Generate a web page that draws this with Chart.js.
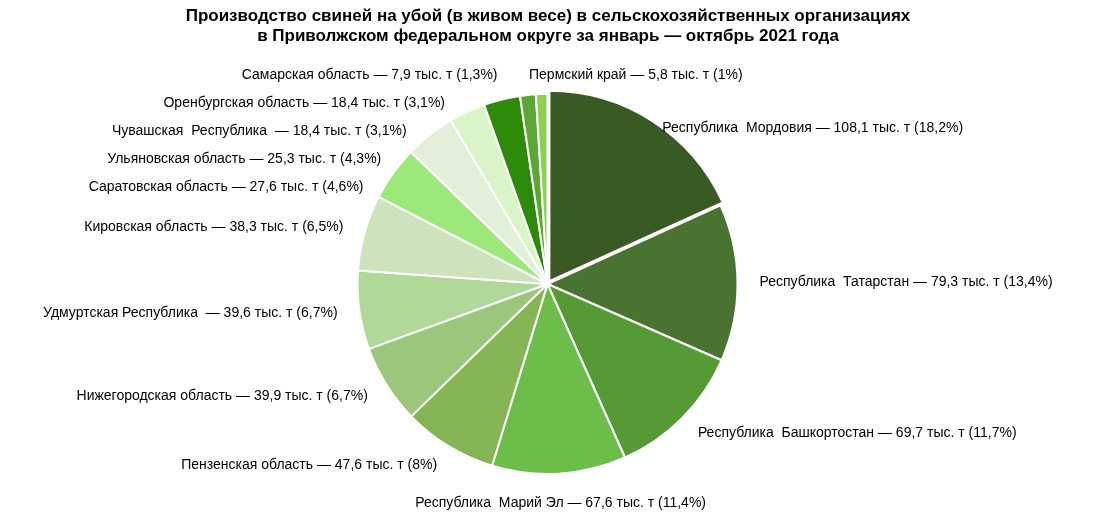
<!DOCTYPE html>
<html><head><meta charset="utf-8">
<script src="https://cdn.jsdelivr.net/npm/chart.js@4"></script>
<style>html,body{margin:0;background:#fff}#w{width:1095px;height:514px}</style></head>
<body><div id="w"><canvas id="c"></canvas></div>
<script>
const regions=["Республика  Мордовия","Республика  Татарстан","Республика  Башкортостан","Республика  Марий Эл","Пензенская область","Нижегородская область","Удмуртская Республика ","Кировская область","Саратовская область","Ульяновская область","Чувашская  Республика ","Оренбургская область","Самарская область","Пермский край"];
const values=[108.1,79.3,69.7,67.6,47.6,39.9,39.6,38.3,27.6,25.3,18.4,18.4,7.9,5.8];
const percents=["18,2","13,4","11,7","11,4","8","6,7","6,7","6,5","4,6","4,3","3,1","3,1","1,3","1"];
const colors=["#3a5a24","#4a7230","#559a35","#6cbd4a","#86b555","#9cc67c","#b0d898","#cde3bd","#9de87a","#e2efd9","#d9f5c8","#2e8b0a","#5aa832","#8fcd55"];
const fmt=v=>String(v).replace('.',',');
const labels=regions.map((r,i)=>r+" — "+fmt(values[i])+" тыс. т ("+percents[i]+"%)");
const labelPlugin={id:'lbl',afterDraw(ch){
 const ctx=ch.ctx;ctx.save();
 ctx.fillStyle='#000';ctx.font='bold 17px "Liberation Sans", Arial';ctx.textAlign='center';ctx.textBaseline='middle';
 ctx.fillText("Производство свиней на убой (в живом весе) в сельскохозяйственных организациях",548,16);
 ctx.fillText("в Приволжском федеральном округе за январь — октябрь 2021 года",548,36);
 ctx.font='14px "Liberation Sans", Arial';
 const meta=ch.getDatasetMeta(0);const items=[];let cx=0,cy=0,r=0;
 meta.data.forEach((a,i)=>{const m=(a.startAngle+a.endAngle)/2;const R=a.outerRadius+22;cx=a.x;cy=a.y;r=a.outerRadius;
  let x=a.x+Math.cos(m)*R,y=a.y+Math.sin(m)*R;items.push({i,x,y,c:Math.cos(m),s:Math.sin(m)});});
 const left=items.filter(o=>o.c<-0.05&&o.s<0.95&&o.i!==13).sort((a,b)=>a.y-b.y);
 if(left.length)left[0].y=Math.max(left[0].y,75);
 for(let k=1;k<left.length;k++){if(left[k].y-left[k-1].y<28)left[k].y=left[k-1].y+28;}
 left.forEach(o=>{const R=r+18,dy=o.y-cy;const nx=cx-Math.sqrt(Math.max(R*R-dy*dy,2500));o.x=Math.min(o.x,nx);});
 items.forEach(o=>{let al,x=o.x,y=o.y;
  if(o.s>0.95){y+=8;al='center';}
  else if(o.i===13){al='left';x=o.x-12;y=75;}
  else if(o.c>0){al='left';if(o.s<-0.5)y+=22;}else{al='right';}
  ctx.textAlign=al;ctx.fillText(labels[o.i],x,y);});
 ctx.restore();}};
new Chart(document.getElementById('c'),{type:'pie',
 data:{labels:regions,datasets:[{data:values,backgroundColor:colors,borderColor:'#fff',borderWidth:2,offset:values.map((v,i)=>i===0?14:0)}]},
 options:{responsive:true,maintainAspectRatio:false,animation:false,radius:190,
  layout:{padding:{top:84,bottom:30}},
  plugins:{legend:{display:false},tooltip:{enabled:false},title:{display:false}}},
 plugins:[labelPlugin]});
</script></body></html>
